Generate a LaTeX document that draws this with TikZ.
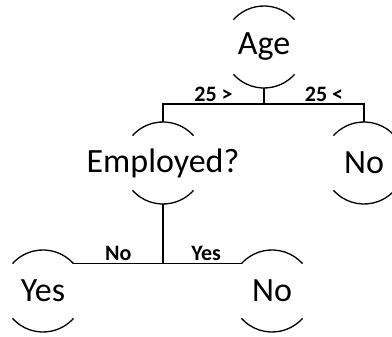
\documentclass[tikz,border=0pt]{standalone}
\usepackage{fontspec}
\setmainfont{Carlito}
\usepackage{tikz}
\usetikzlibrary{positioning, calc}
\newcommand{\treefont}{\fontsize{34}{38}\selectfont}
\newcommand{\edgefont}{\fontsize{22}{26}\selectfont\bfseries}
\tikzset{
  decision/.style={circle, minimum size=82pt, inner sep=0pt, outer sep=0pt,
                   label={[font=\treefont, inner sep=0pt]center:#1}},
  edgelabel/.style={font=\edgefont, above, inner sep=2pt},
  branch/.style={line width=1.3pt, draw=black},
}

\begin{document}
\begin{tikzpicture}[x=1pt, y=1pt]
  \useasboundingbox (0,0) rectangle (392,-337);

  % Nodes
  \node[decision=Age] (age) at (264,-47) {};
  \node[decision=Employed?] (employed) at (163,-163) {};
  \node[decision=No] (noage) at (364,-163) {};
  \node[decision=Yes] (yes) at (43,-291) {};
  \node[decision=No] (no) at (272,-291) {};

  % Open arcs round each node
  \foreach \n in {age, employed, noage, yes, no} {
    \draw[branch] (\n.42) arc[start angle=42, end angle=138, radius=41pt];
    \draw[branch] (\n.222) arc[start angle=222, end angle=318, radius=41pt];
  }

  % Junctions
  \coordinate (topjoin) at (264,-104);
  \coordinate (lowjoin) at (employed.south |- yes.42);

  % Branches
  \draw[branch] (age.south) -- (topjoin);
  \draw[branch] (employed.north) |- node[edgelabel, pos=0.75] {25 >} (topjoin);
  \draw[branch] (topjoin) -| node[edgelabel, pos=0.3] {25 <} (noage.north);
  \draw[branch] (employed.south) -- (lowjoin);
  \draw[branch] (yes.42) -- node[edgelabel, pos=0.5] {No} (lowjoin);
  \draw[branch] (lowjoin) -- node[edgelabel, pos=0.55] {Yes} (no.138);
\end{tikzpicture}
\end{document}
